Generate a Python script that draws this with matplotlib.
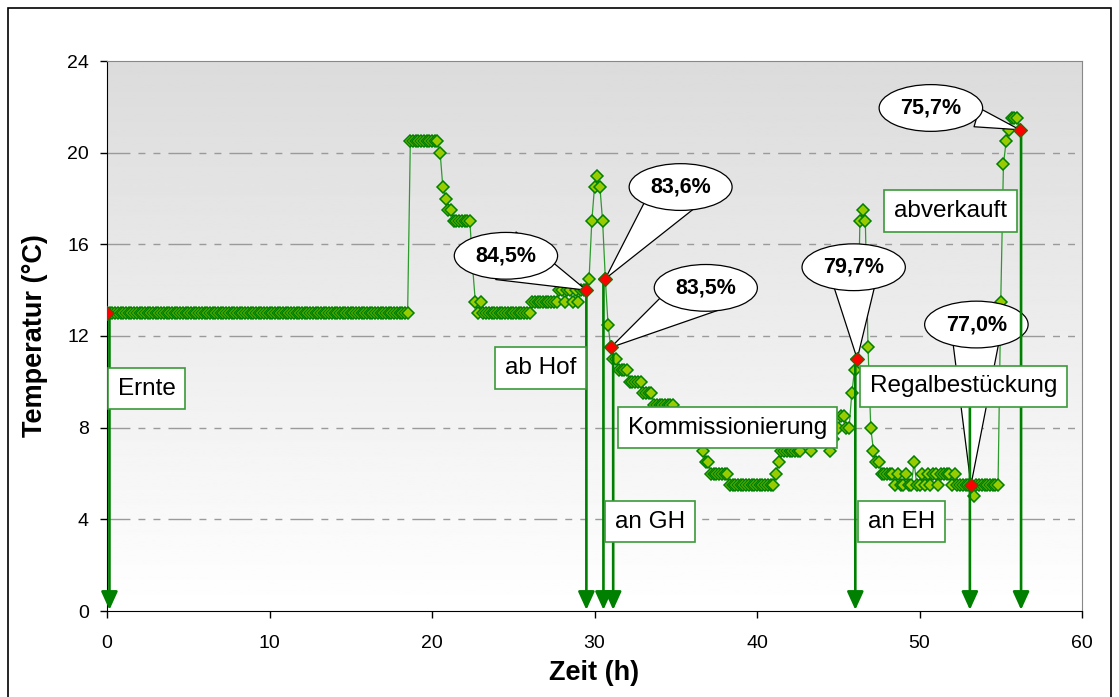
import matplotlib
matplotlib.use('Agg')
import matplotlib.pyplot as plt
import numpy as np
from matplotlib.patches import Rectangle

# logger reading every 10 min, temperatures as (value, number of readings)
LOG_INTERVAL_H = 1 / 6
temp_runs = [
    (13.0, 112), (20.5, 11), (20.0, 1), (18.5, 1), (18.0, 1), (17.5, 2), (17.0, 7),
    (15.0, 1), (13.5, 1), (13.0, 1), (13.5, 1), (13.0, 18), (13.5, 10), (14.0, 2),
    (13.5, 1), (14.0, 2), (13.5, 1), (14.0, 1), (13.5, 1), (14.0, 3),
    (14.5, 1), (17.0, 1), (18.5, 1), (19.0, 1), (18.5, 1), (17.0, 1), (14.5, 1),
    (12.5, 1), (11.5, 1), (11.0, 2), (10.5, 4), (10.0, 5), (9.5, 4), (9.0, 8),
    (8.5, 4), (8.0, 4), (7.5, 2), (7.0, 1), (6.5, 2), (6.0, 7), (5.5, 17),
    (6.0, 1), (6.5, 1), (7.0, 8), (7.5, 3), (7.0, 1), (7.5, 6), (7.0, 1), (7.5, 1),
    (8.0, 2), (8.5, 2), (8.0, 2), (9.5, 1), (10.5, 1), (11.0, 1),
    (17.0, 1), (17.5, 1), (17.0, 1), (11.5, 1), (8.0, 1), (7.0, 1), (6.5, 2),
    (6.0, 5), (5.5, 1), (6.0, 1), (5.5, 2), (6.0, 1), (5.5, 2), (6.5, 1), (5.5, 2),
    (6.0, 1), (5.5, 1), (6.0, 1), (5.5, 1), (6.0, 2), (5.5, 1), (6.0, 4), (5.5, 1),
    (6.0, 1), (5.5, 6), (5.0, 1), (5.5, 9),
    (13.5, 1), (19.5, 1), (20.5, 1), (21.0, 1), (21.5, 3), (21.0, 1),
]
temperature = np.array([v for v, n in temp_runs for _ in range(n)])
time_h = np.arange(len(temperature)) * LOG_INTERVAL_H

# readings with quality value (red points)
quality_idx = [0, 177, 184, 186, 277, 319, 337]
quality_labels = [None, '84,5%', '83,6%', '83,5%', '79,7%', '77,0%', '75,7%']
bubble_xy = [None, (24.55, 15.5), (35.3, 18.5), (36.85, 14.1), (45.95, 15.0),
             (53.5, 12.5), (50.7, 21.95)]
bubble_relpos = [None, (0.5, 0.5), (0.5, 0.5), (0.5, 0.5), (0.5, 0.5),
                 (0.5, 0.5), (1.25, 0.05)]
bubble_tail = [None, 2.4, 2.4, 2.4, 2.4, 2.4, 0.9]

# logistic events
event_labels = ['Ernte', 'ab Hof', 'an GH', 'Kommissionierung', 'an EH',
                'Regalbestückung', 'abverkauft']
event_time = [0.15, 29.5, 30.55, 31.15, 46.05, 53.1, 56.25]
event_top = [13.0, 14.0, 14.4, 11.2, 11.0, 9.5, 20.7]
label_xy = [(2.45, 9.7), (26.7, 10.6), (33.4, 3.9), (38.2, 8.0), (48.9, 3.9),
            (52.7, 9.8), (51.9, 17.45)]

plt.rcParams['font.family'] = ['Liberation Sans', 'DejaVu Sans']

fig = plt.figure(figsize=(11.19, 6.97), dpi=100)
ax = fig.add_axes([107 / 1119, 1 - 611 / 697, 975 / 1119, 550 / 697])

fig.patches.append(Rectangle((8 / 1119, -0.1), 1103 / 1119, 1.1 - 8 / 697,
                             transform=fig.transFigure, fill=False,
                             ec='black', lw=1.2))

grad = np.linspace(1.0, 0.86, 256).reshape(-1, 1)
ax.imshow(grad, cmap='gray', vmin=0, vmax=1, origin='lower', aspect='auto',
          extent=[0, 60, 0, 24], zorder=0)

for y in [4, 8, 12, 16, 20]:
    ax.axhline(y, color='#9a9a9a', lw=1.0,
               linestyle=(0, (16.5, 5.8, 5, 5.8, 5, 5.8)), zorder=1)

ax.plot(time_h, temperature, color='#2e9a2e', lw=0.9, marker='D', ms=6.3,
        mfc='#99cc00', mec='#008000', mew=1.1, zorder=3)

for i, text, xy, rp, tw in zip(quality_idx, quality_labels, bubble_xy,
                               bubble_relpos, bubble_tail):
    if text is None:
        continue
    ax.annotate(text, xy=(time_h[i], temperature[i]), xytext=xy,
                fontsize=15.5, fontweight='bold', ha='center', va='center',
                bbox=dict(boxstyle='ellipse,pad=0.28', fc='white', ec='black', lw=0.9),
                arrowprops=dict(arrowstyle='wedge,tail_width=%s,shrink_factor=0.5' % tw,
                                fc='white', ec='black', lw=0.9, patchA=None,
                                shrinkA=0, shrinkB=0, relpos=rp),
                zorder=4)

for t, top in zip(event_time, event_top):
    ax.annotate('', xy=(t, 0.05), xytext=(t, top),
                arrowprops=dict(arrowstyle='-|>,head_length=0.55,head_width=0.25',
                                color='#008000', lw=1.9, shrinkA=0, shrinkB=0,
                                mutation_scale=20),
                zorder=5)

ax.plot(time_h[quality_idx], temperature[quality_idx], ls='none', marker='D',
        ms=6.8, mfc='#ff0000', mec='#008000', mew=0.8, zorder=5.5)

for text, (x, y) in zip(event_labels, label_xy):
    ax.text(x, y, text, fontsize=17.5, ha='center', va='center', zorder=6,
            bbox=dict(boxstyle='square,pad=0.4', fc='white', ec='#3a9a3a', lw=1.2))

ax.set_xlim(0, 60)
ax.set_ylim(0, 24)
ax.set_xticks(range(0, 61, 10))
ax.set_yticks(range(0, 25, 4))
ax.tick_params(direction='out', length=5, width=1, labelsize=14)
ax.tick_params(axis='x', pad=12)
ax.tick_params(axis='y', pad=8)
ax.spines['top'].set_color('#888888')
ax.spines['right'].set_color('#888888')
ax.set_xlabel('Zeit (h)', fontsize=19.5, fontweight='bold', labelpad=6)
ax.set_ylabel('Temperatur (°C)', fontsize=19.5, fontweight='bold', labelpad=14)

fig.savefig('out.png', dpi=100)
plt.close()
